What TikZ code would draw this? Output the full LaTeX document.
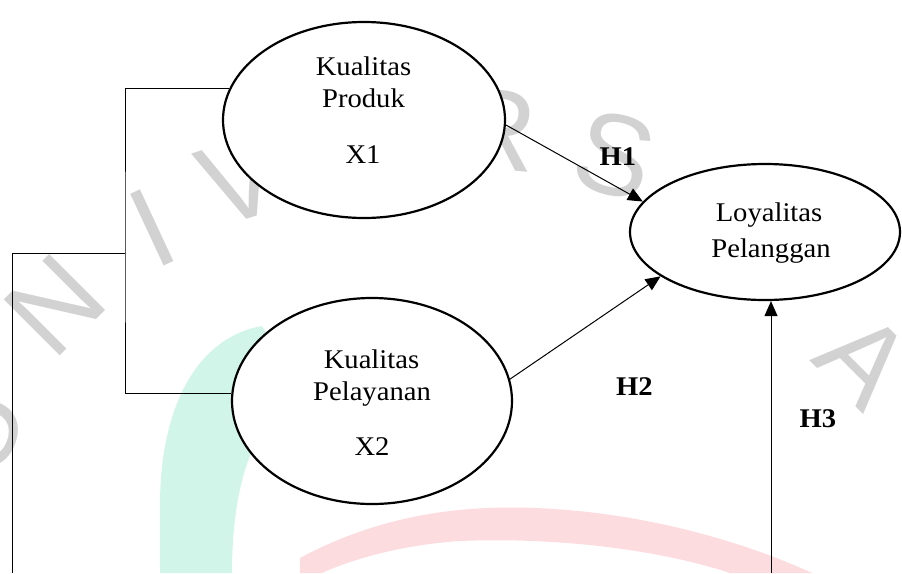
\documentclass[tikz,border=0pt]{standalone}
\usepackage{fontspec}
\setmainfont[FakeStretch=1.06]{Liberation Serif}
\newfontfamily\wmfont{Liberation Sans}
\usetikzlibrary{shapes.geometric,arrows.meta}
\definecolor{wmgray}{HTML}{D2D2D2}
\definecolor{wmteal}{HTML}{D2F5E9}
\definecolor{wmred}{HTML}{FDDCE0}
\tikzset{
  var/.style={draw, ellipse, line width=2.2pt, fill=white, inner sep=0pt},
  lbl/.style={anchor=base, inner sep=0pt, font=\fontsize{27}{33}\selectfont},
  hlbl/.style={anchor=base, inner sep=0pt, font=\fontsize{27}{33}\selectfont\bfseries},
  wm/.style={text=wmgray, inner sep=0pt, font=\fontsize{115}{115}\selectfont\wmfont},
  conn/.style={line width=1pt},
  arr/.style={line width=1pt, -{Triangle[length=15pt,width=13pt]}}
}
\begin{document}
\begin{tikzpicture}[x=1pt,y=-1pt]
\useasboundingbox (0,0) rectangle (902,573);
\fill[white] (0,0) rectangle (902,573);
% watermark
\fill[wmteal] (160,573) -- (160,505) .. controls (160,410) and (195,338) .. (262,326)
  -- (300,390) .. controls (255,420) and (232,480) .. (232,573) -- cycle;
\fill[wmred] (300,558) .. controls (380,515) and (460,505) .. (535,508)
  .. controls (640,512) and (740,540) .. (812,573) -- (730,573)
  .. controls (660,550) and (560,537) .. (460,541) .. controls (400,545) and (350,560) .. (322,573)
  -- (300,573) -- cycle;
\node[wm, rotate=70] (wU) at (-22,430) {U};
\node[wm, rotate=45] (wN) at (55,305) {N};
\node[wm, rotate=25] (wI) at (152,228) {I};
\node[wm, rotate=18] (wV) at (240,180) {V};
\node[wm, rotate=-5] (wR) at (495,130) {R};
\node[wm, rotate=-15] (wS) at (615,155) {S};
\node[wm, rotate=-45] (wA) at (865,360) {A};
% variables
\node[var, minimum width=282pt, minimum height=196pt] (e1) at (364,120) {};
\node[var, minimum width=280pt, minimum height=206pt] (e2) at (372,401) {};
\node[var, minimum width=270pt, minimum height=136pt] (ly) at (765,232) {};
\node[lbl] (t1a) at (363.5,75) {Kualitas};
\node[lbl] (t1b) at (363.5,107) {Produk};
\node[lbl] (t1c) at (363,163) {X1};
\node[lbl] (t2a) at (371.5,368) {Kualitas};
\node[lbl] (t2b) at (372,400) {Pelayanan};
\node[lbl] (t2c) at (372,455) {X2};
\node[lbl] (t3a) at (769,221) {Loyalitas};
\node[lbl] (t3b) at (771,257) {Pelanggan};
\node[hlbl] (h1) at (618,165) {H1};
\node[hlbl] (h2) at (634.5,395) {H2};
\node[hlbl] (h3) at (818,427) {H3};
% connectors
\coordinate (bx) at (125,253);
\coordinate (lx) at (12,253);
\coordinate (lb) at (12,573);
\coordinate (h3b) at (771,573);
\draw[conn] (e1.167) -| (bx) |- (e2.177);
\draw[conn] (bx) -- (lx) -- (lb);
\draw[arr] (e1.-2) -- (ly.166.4);
\draw[arr] (e2.9.4) -- (ly.203.3);
\draw[arr] (h3b) -- (h3b |- ly.south);
\end{tikzpicture}
\end{document}
